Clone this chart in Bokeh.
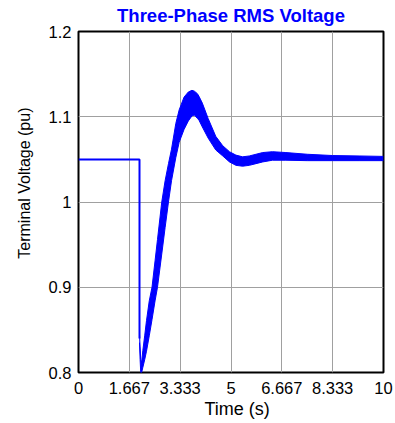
from bokeh.plotting import figure
from bokeh.models import FixedTicker, Range1d, Title
from bokeh.embed import file_html
from bokeh.resources import INLINE

# ---- data ----
x_ticks = [0, 1.667, 3.333, 5, 6.667, 8.333, 10]
x_tick_labels = ["0", "1.667", "3.333", "5", "6.667", "8.333", "10"]
y_ticks = [0.8, 0.9, 1.0, 1.1, 1.2]
y_tick_labels = ["0.8", "0.9", "1", "1.1", "1.2"]

# pre-fault steady value and the step down at the fault instant
pre_t = [0.0, 2.0, 2.0]
pre_v = [1.05, 1.05, 0.84]

# envelope of the (rippling) three-phase RMS band after the fault
t_band = [2.00, 2.02, 2.04, 2.07, 2.11, 2.17, 2.23, 2.32, 2.41, 2.51, 2.59,
          2.73, 2.84, 2.95, 3.05, 3.19, 3.30, 3.46, 3.60, 3.72, 3.80, 3.90,
          3.95, 4.06, 4.25, 4.50, 4.73, 4.95, 5.16, 5.38, 5.60, 5.82, 6.04,
          6.36, 6.80, 7.50, 8.33, 9.20, 10.0]
v_upper = [0.845, 0.830, 0.815, 0.812, 0.826, 0.843, 0.861, 0.884, 0.900,
           0.931, 0.956, 1.000, 1.025, 1.045, 1.062, 1.092, 1.108, 1.123,
           1.129, 1.131, 1.130, 1.127, 1.124, 1.116, 1.098, 1.077, 1.066,
           1.059, 1.055, 1.053, 1.054, 1.056, 1.058, 1.059, 1.058, 1.056,
           1.0545, 1.054, 1.0535]
v_lower = [0.835, 0.815, 0.800, 0.800, 0.806, 0.815, 0.825, 0.843, 0.862,
           0.884, 0.900, 0.939, 0.970, 1.000, 1.025, 1.052, 1.070, 1.085,
           1.095, 1.101, 1.102, 1.098, 1.096, 1.088, 1.075, 1.061, 1.054,
           1.047, 1.043, 1.042, 1.043, 1.045, 1.047, 1.049, 1.049, 1.0485,
           1.0485, 1.0485, 1.0485]

title_text = "Three-Phase RMS Voltage"
x_title = "Time (s)"
y_title = "Terminal Voltage (pu)"

BLUE = "#0000ff"
FONT = "Liberation Sans"

p = figure(width=395, height=423, output_backend="svg", toolbar_location=None,
           x_range=Range1d(0, 10), y_range=Range1d(0.8, 1.2),
           min_border_left=77, min_border_right=12,
           min_border_top=30, min_border_bottom=51,
           title=title_text)

p.title.align = "center"
p.title.vertical_align = "top"
p.title.text_color = BLUE
p.title.text_font = FONT
p.title.text_font_size = "18.5px"
p.title.text_font_style = "bold"
p.title.standoff = 8

p.background_fill_color = "white"
p.border_fill_color = "white"
p.outline_line_color = "black"
p.outline_line_width = 2

p.xaxis.ticker = FixedTicker(ticks=x_ticks)
p.xaxis.major_label_overrides = {t: s for t, s in zip(x_ticks, x_tick_labels)}
p.yaxis.ticker = FixedTicker(ticks=y_ticks)
p.yaxis.major_label_overrides = {t: s for t, s in zip(y_ticks, y_tick_labels)}

for ax in (p.xaxis[0], p.yaxis[0]):
    ax.axis_line_color = None
    ax.major_tick_line_color = None
    ax.minor_tick_line_color = None
    ax.major_tick_in = 0
    ax.major_tick_out = 0
    ax.major_label_text_font = FONT
    ax.major_label_text_font_size = "16.5px"
    ax.major_label_text_color = "black"

p.xaxis.major_label_standoff = 9
p.yaxis.major_label_standoff = 7

p.xgrid.grid_line_color = "#a0a0a0"
p.ygrid.grid_line_color = "#a0a0a0"
p.xgrid.grid_line_width = 1
p.ygrid.grid_line_width = 1

p.varea(x=t_band, y1=v_lower, y2=v_upper, fill_color=BLUE, fill_alpha=1.0)
p.line(t_band, v_upper, line_color=BLUE, line_width=1)
p.line(t_band, v_lower, line_color=BLUE, line_width=1)
p.line(pre_t, pre_v, line_color=BLUE, line_width=2)

# axis titles as side titles, positioned as in the reference
yt = Title(text=y_title, align="right", offset=76, standoff=26,
           text_font=FONT, text_font_size="16px", text_font_style="normal",
           text_color="black")
p.add_layout(yt, "left")
xt = Title(text=x_title, align="left", offset=126, standoff=0,
           text_font=FONT, text_font_size="18px", text_font_style="normal",
           text_color="black")
p.add_layout(xt, "below")

open("out.html", "w").write(file_html(p, INLINE))
